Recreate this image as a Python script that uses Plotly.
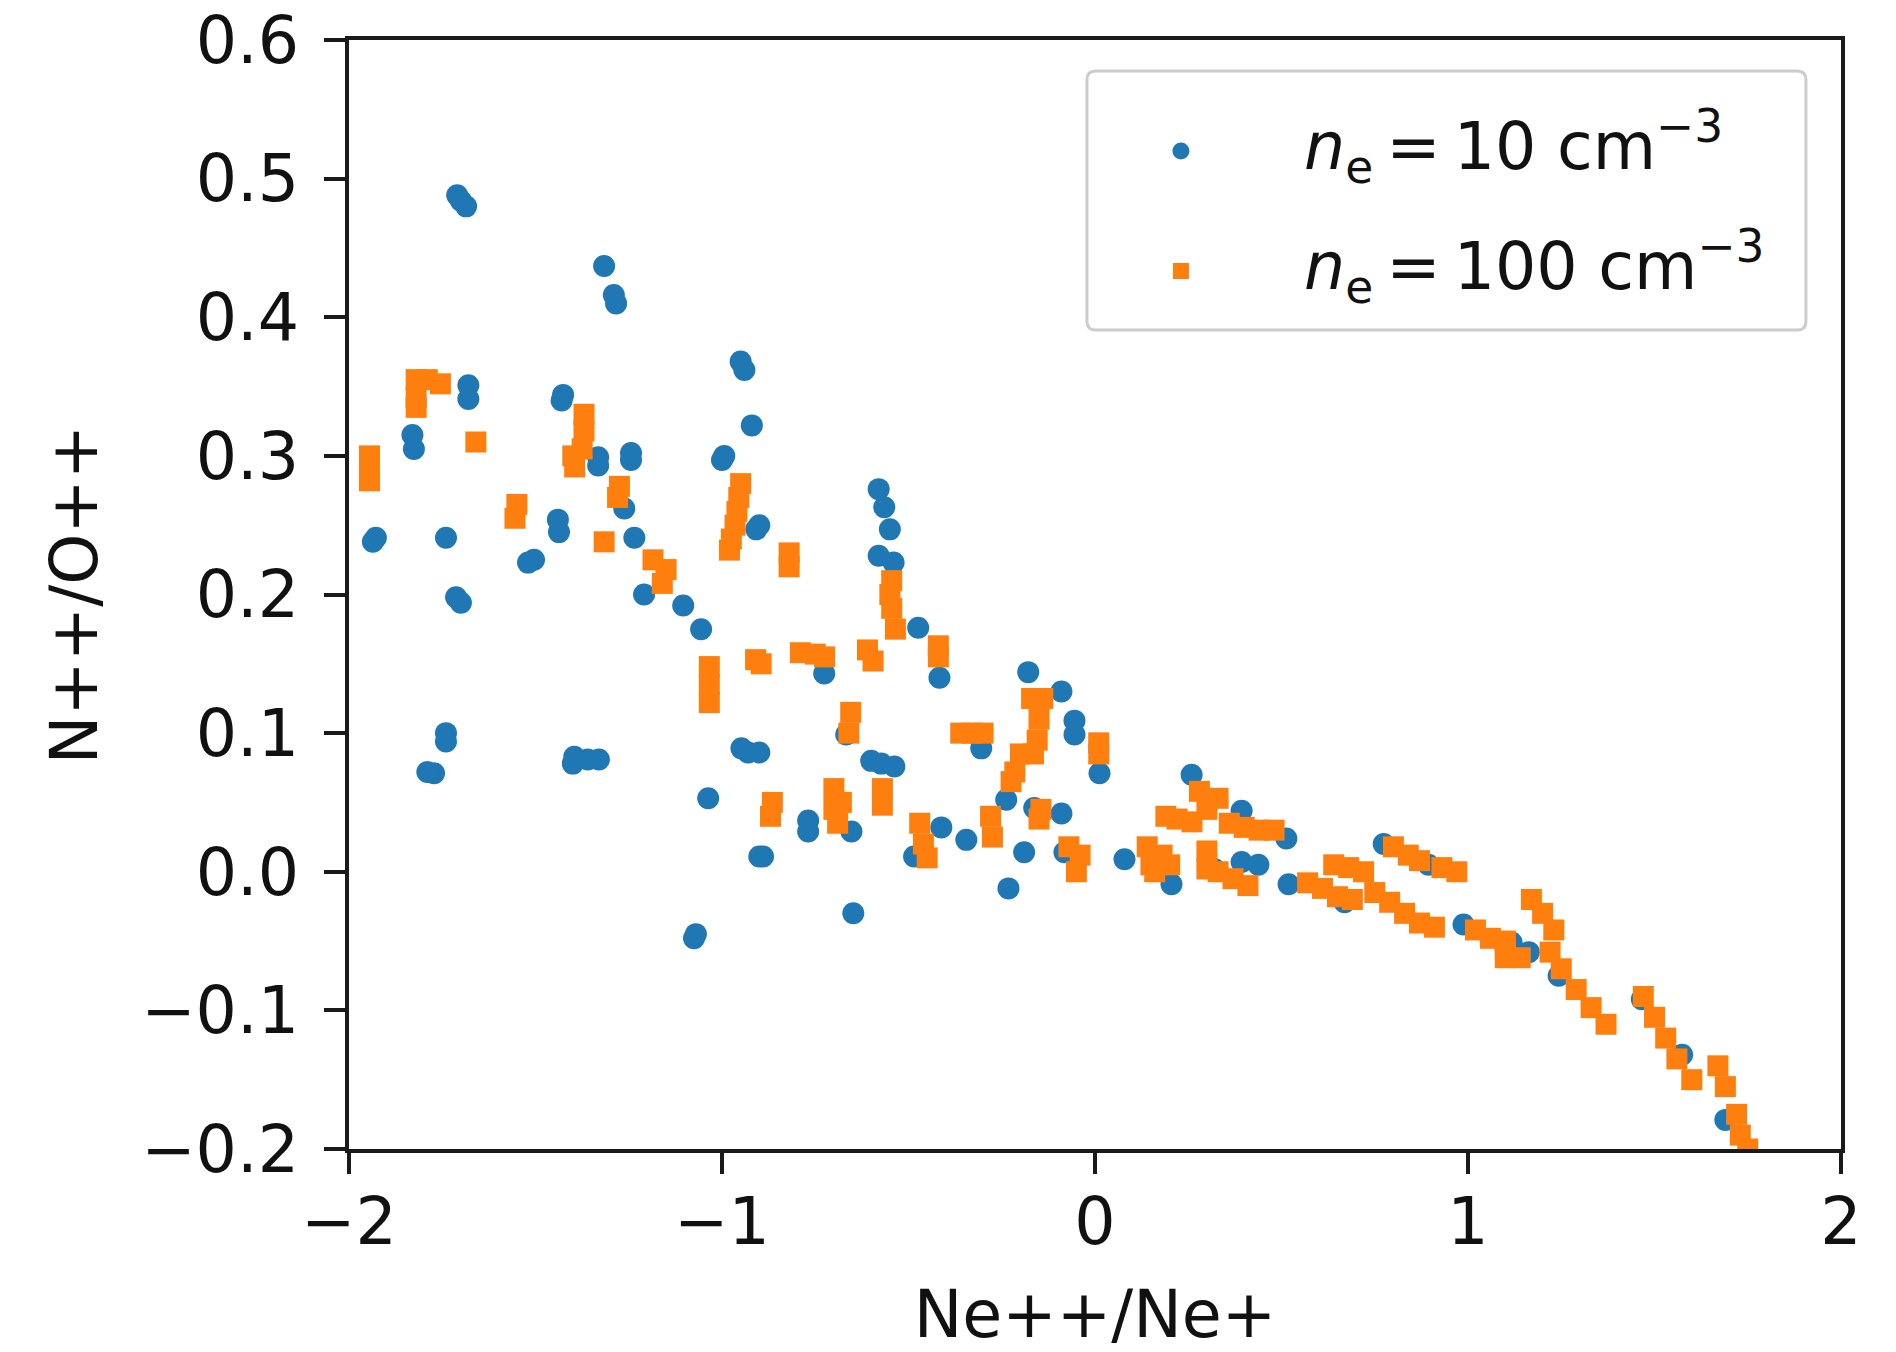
import plotly.graph_objects as go

# n_e = 10 cm^-3 (blue circles)
ne10_x = [-1.71, -1.70, -1.686, -1.316, -1.29, -1.284, -0.95, -0.94, -0.92, -0.994, -1.0,
          -1.68, -1.68, -1.83, -1.826, -1.426, -1.43, -1.332, -1.332, -1.244, -1.244,
          -1.928, -1.936, -1.74, -1.713, -1.70, -1.504, -1.52, -1.44, -1.437,
          -1.262, -1.235, -1.209, -1.104, -1.056, -0.908, -0.9,
          -0.58, -0.565, -0.55, -0.58, -0.54, -0.474,
          -0.726, -0.417, -0.179, -0.09, -0.055, -0.055, 0.012,
          -0.667, -0.93, -0.948, -0.9, -0.573, -0.538, -0.6,
          -0.769, -0.769, -0.653, -0.89, -0.9, -0.485, -0.412, -0.345, -0.238, -0.163,
          -0.19, -0.09, -0.082, 0.079, -0.232, -0.648, -0.305,
          -1.74, -1.74, -1.772, -1.79, -1.4, -1.36, -1.33, -1.396,
          -1.037, -1.075, -1.07,
          0.259, 0.393, 0.513, 0.205, 0.519, 0.393, 0.438, 0.669, 0.774, 0.894,
          0.988, 1.163, 1.243, 0.32, 1.117, 1.466, 1.69, 1.574]
ne10_y = [0.488, 0.484, 0.48, 0.437, 0.416, 0.41, 0.368, 0.362, 0.322, 0.300, 0.297,
          0.351, 0.341, 0.315, 0.305, 0.344, 0.34, 0.299, 0.293, 0.302, 0.297,
          0.241, 0.238, 0.241, 0.198, 0.194, 0.225, 0.223, 0.254, 0.245,
          0.262, 0.241, 0.2, 0.192, 0.175, 0.247, 0.25,
          0.276, 0.263, 0.247, 0.228, 0.223, 0.176,
          0.143, 0.14, 0.144, 0.13, 0.109, 0.099, 0.071,
          0.099, 0.086, 0.089, 0.086, 0.078, 0.076, 0.08,
          0.037, 0.029, 0.029, 0.011, 0.011, 0.011, 0.032, 0.023, 0.052, 0.046,
          0.014, 0.042, 0.014, 0.009, -0.012, -0.03, 0.089,
          0.1, 0.094, 0.071, 0.072, 0.078, 0.081, 0.081, 0.083,
          0.053, -0.048, -0.045,
          0.07, 0.044, 0.024, -0.009, -0.009, 0.007, 0.005, -0.022, 0.02, 0.005,
          -0.038, -0.058, -0.075, 0.002, -0.051, -0.092, -0.179, -0.132]

# n_e = 100 cm^-3 (orange squares)
ne100_x = [-1.82, -1.79, -1.755, -1.82, -1.82, -1.66, -1.945, -1.945, -1.945,
           -1.37, -1.37, -1.375, -1.4, -1.395, -1.55, -1.555, -1.316, -1.275, -1.28,
           -1.185, -1.15, -1.16, -0.95, -0.955, -0.96, -0.965, -0.975, -0.98,
           -0.82, -0.82, -0.545, -0.55, -0.545, -0.535, -1.034, -1.034, -1.034,
           -0.91, -0.895, -0.79, -0.75, -0.725, -0.61, -0.595, -0.42, -0.42,
           -0.655, -0.66, -0.36, -0.33, -0.3, -0.17, -0.14, -0.15, -0.155, -0.165,
           -0.2, -0.215, -0.225, 0.01, 0.01, -0.865, -0.87, -0.7, -0.7, -0.68, -0.69,
           -0.57, -0.57, -0.47, -0.46, -0.45, -0.28, -0.275, -0.145, -0.15,
           -0.07, -0.04, -0.05, 0.14, 0.15, 0.28, 0.33, 0.3, 0.19, 0.22, 0.26,
           0.36, 0.4, 0.44, 0.48, 0.18, 0.16, 0.2, 0.3, 0.3, 0.33, 0.37, 0.41,
           0.57, 0.61, 0.65, 0.69, 0.64, 0.68, 0.72, 0.75, 0.79, 0.83, 0.87, 0.91,
           0.8, 0.84, 0.87, 0.93, 0.97, 1.02, 1.06, 1.1, 1.14, 1.17, 1.2, 1.23,
           1.1, 1.1, 1.22, 1.25, 1.29, 1.33, 1.37, 1.47, 1.5, 1.53, 1.56, 1.6,
           1.67, 1.69, 1.72, 1.73, 1.75]
ne100_y = [0.355, 0.355, 0.352, 0.342, 0.335, 0.31, 0.300, 0.29, 0.282,
           0.33, 0.318, 0.305, 0.3, 0.292, 0.265, 0.255, 0.238, 0.278, 0.27,
           0.225, 0.218, 0.208, 0.28, 0.27, 0.26, 0.25, 0.24, 0.232,
           0.23, 0.22, 0.21, 0.2, 0.19, 0.175, 0.148, 0.135, 0.122,
           0.153, 0.15, 0.158, 0.157, 0.155, 0.16, 0.152, 0.163, 0.155,
           0.115, 0.1, 0.1, 0.1, 0.1, 0.125, 0.125, 0.11, 0.095, 0.085,
           0.085, 0.072, 0.065, 0.093, 0.085, 0.05, 0.04, 0.06, 0.045, 0.05, 0.035,
           0.06, 0.048, 0.035, 0.02, 0.01, 0.04, 0.025, 0.045, 0.038,
           0.018, 0.012, 0.0, 0.018, 0.005, 0.058, 0.053, 0.045, 0.04, 0.038, 0.036,
           0.035, 0.032, 0.03, 0.03, 0.012, 0.0, 0.005, 0.015, 0.002, 0.0, -0.005, -0.01,
           -0.008, -0.012, -0.018, -0.02, 0.005, 0.003, 0.0, -0.015, -0.022, -0.03, -0.037, -0.04,
           0.018, 0.012, 0.008, 0.003, 0.0, -0.042, -0.048, -0.055, -0.062, -0.02, -0.03, -0.042,
           -0.05, -0.062, -0.058, -0.07, -0.085, -0.098, -0.11, -0.09, -0.105, -0.12, -0.135, -0.15,
           -0.14, -0.155, -0.175, -0.19, -0.2]

x_ticks = [-2, -1, 0, 1, 2]
y_ticks = [-0.2, -0.1, 0.0, 0.1, 0.2, 0.3, 0.4, 0.5, 0.6]
legend_labels = ["<i>n</i><sub>e</sub>\u2009=\u200910 cm<sup>−3</sup>",
                 "<i>n</i><sub>e</sub>\u2009=\u2009100 cm<sup>−3</sup>"]

FONT = "DejaVu Sans"
FS = 65
BLUE = "#1f77b4"
ORANGE = "#ff7f0e"

fig = go.Figure()
fig.add_trace(go.Scatter(
    x=ne10_x, y=ne10_y, mode="markers", name=legend_labels[0], showlegend=False,
    marker=dict(symbol="circle", size=22, color=BLUE, line=dict(width=0)),
))
fig.add_trace(go.Scatter(
    x=ne100_x, y=ne100_y, mode="markers", name=legend_labels[1], showlegend=False,
    marker=dict(symbol="square", size=21, color=ORANGE, line=dict(width=0)),
))

# ---- custom legend (box + symbols on an overlay axis + text) ----
box_x0, box_x1, box_y0, box_y1 = 0.4946, 0.9765, 0.7385, 0.972
rx, ry = 0.006, 0.008
path = (f"M {box_x0+rx},{box_y1} L {box_x1-rx},{box_y1} Q {box_x1},{box_y1} {box_x1},{box_y1-ry} "
        f"L {box_x1},{box_y0+ry} Q {box_x1},{box_y0} {box_x1-rx},{box_y0} "
        f"L {box_x0+rx},{box_y0} Q {box_x0},{box_y0} {box_x0},{box_y0+ry} "
        f"L {box_x0},{box_y1-ry} Q {box_x0},{box_y1} {box_x0+rx},{box_y1} Z")
fig.add_shape(type="path", path=path, xref="paper", yref="paper",
              line=dict(color="#cccccc", width=3), fillcolor="rgba(255,255,255,0.8)",
              layer="below")

sym_x = 0.5576
row_y = [0.8999, 0.7917]
fig.add_trace(go.Scatter(x=[sym_x], y=[row_y[0]], xaxis="x2", yaxis="y2", mode="markers",
                         marker=dict(symbol="circle", size=17, color=BLUE, line=dict(width=0)),
                         showlegend=False, hoverinfo="skip", cliponaxis=False))
fig.add_trace(go.Scatter(x=[sym_x], y=[row_y[1]], xaxis="x2", yaxis="y2", mode="markers",
                         marker=dict(symbol="square", size=16, color=ORANGE, line=dict(width=0)),
                         showlegend=False, hoverinfo="skip", cliponaxis=False))
for lab, yy in zip(legend_labels, row_y):
    fig.add_annotation(x=0.639, y=yy + 0.004, xref="paper", yref="paper", text=lab,
                       showarrow=False, xanchor="left", yanchor="middle",
                       font=dict(family=FONT, size=FS, color="#111111"))

axis_common = dict(
    showgrid=False, zeroline=False, showline=True, mirror=True,
    linecolor="#1a1a1a", linewidth=4, ticks="outside", ticklen=21, tickwidth=4,
    tickcolor="#1a1a1a", tickfont=dict(family=FONT, size=FS, color="#111111"),
    ticklabeloverflow="allow",
)

fig.update_layout(
    width=1896, height=1352,
    margin=dict(l=341, r=63, t=32, b=211, autoexpand=False),
    paper_bgcolor="white", plot_bgcolor="white",
    font=dict(family=FONT, size=FS, color="#111111"),
    xaxis=dict(range=[-2, 2], tickvals=x_ticks,
               ticktext=[("−" + str(abs(v))) if v < 0 else str(v) for v in x_ticks],
               title=dict(text="Ne++/Ne+", font=dict(family=FONT, size=FS), standoff=34),
               ticklabelstandoff=-8, **axis_common),
    yaxis=dict(range=[-0.2, 0.6], tickvals=y_ticks,
               ticktext=[("−" if v < 0 else "") + f"{abs(v):.1f}" for v in y_ticks],
               title=dict(text="N++/O++", font=dict(family=FONT, size=FS), standoff=23),
               ticklabelstandoff=12, **axis_common),
    xaxis2=dict(overlaying="x", range=[0, 1], visible=False, fixedrange=True),
    yaxis2=dict(overlaying="y", range=[0, 1], visible=False, fixedrange=True),
    showlegend=False,
)

fig.write_html("out.html")
